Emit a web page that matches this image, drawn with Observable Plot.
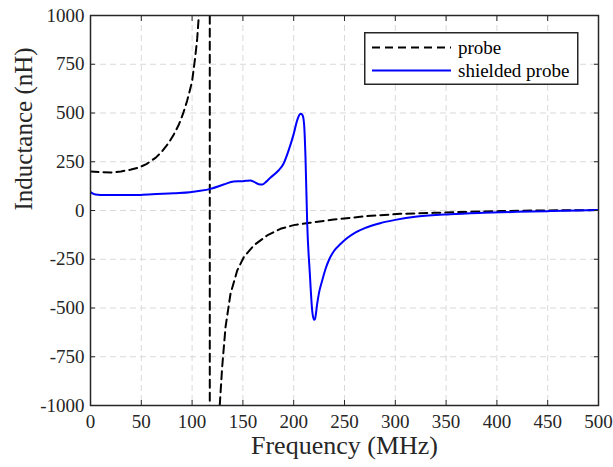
<!DOCTYPE html>
<html><head><meta charset="utf-8">
<script src="https://cdn.jsdelivr.net/npm/d3@7"></script>
<script src="https://cdn.jsdelivr.net/npm/@observablehq/plot@0.6"></script>
<style>
body{margin:0;background:#fff;}
#wrap{position:relative;width:613px;height:467px;font-family:"Liberation Serif","Times New Roman",serif;}
#legend{position:absolute;left:364px;top:32px;}
</style>
</head><body>
<div id="wrap"></div>
<script>
// x ticks (MHz) and y ticks (nH)
const xTicks = [0, 50, 100, 150, 200, 250, 300, 350, 400, 450, 500];
const yTicks = [-1000, -750, -500, -250, 0, 250, 500, 750, 1000];

// "probe" series (dashed black)
const probeFreq = [0, 10, 20, 30, 40, 47, 55, 64, 70, 77, 82, 87, 91, 95, 98, 100, 103, 105, 106.5, 117.3,
  117.5, 127.2, 129.6, 132.9, 137.8, 144.4, 150.9, 160.7, 173.9, 187, 200, 216, 239.5, 272, 305, 337.6, 370.8, 403.5, 436, 470, 500];
const probeL = [200, 197, 195, 200, 210, 219, 238, 270, 300, 347, 390, 441, 495, 561, 620, 663, 783, 880, 990, 30000,
  -30000, -1000, -803, -598, -427, -308, -239, -179, -128, -94, -75, -63, -46, -29, -17, -12, -7, -3, 0, 1, 2];

// "shielded probe" series (solid blue)
const shieldFreq = [0, 3, 5, 10, 23, 40, 49, 65, 82, 98, 108, 118, 131, 141, 149, 153, 157.5, 161, 165.6, 169, 173, 177,
  185, 190, 195, 200, 203.4, 205.5, 206.7, 208, 209.3, 210.5, 211.6, 213.3, 215.9, 218.2, 220, 221, 223.1, 225, 228, 231,
  235, 240, 246, 253, 261, 270, 285, 300, 321.5, 354, 387, 420, 453, 480, 500];
const shieldL = [94, 85, 82, 80, 79, 79.5, 80, 84, 89, 94, 101, 111, 133, 149, 150, 152, 154, 147, 135, 133, 148, 168,
  205, 240, 308, 393, 462, 490, 496, 493, 479, 420, 274, -68, -325, -513, -560, -555, -479, -420, -360, -305,
  -250, -205, -172, -140, -112, -90, -65, -48, -31, -19, -12, -7, -3, 0, 2];

const seriesNames = ["probe", "shielded probe"];

const probe = probeFreq.map((f, i) => ({f, L: probeL[i]}));
const shielded = shieldFreq.map((f, i) => ({f, L: shieldL[i]}));

const axisColor = "#262626";
const serif = "'Liberation Serif','Times New Roman',serif";
const gridStyle = {stroke: "#d9d9d9", strokeOpacity: 1, strokeWidth: 1, strokeDasharray: "6,4"};
const fmt = d => String(d);

const chart = Plot.plot({
  width: 613, height: 467,
  marginLeft: 90, marginRight: 15, marginTop: 15, marginBottom: 62,
  x: {domain: [0, 500]},
  y: {domain: [-1000, 1000]},
  style: {fontFamily: serif, fontSize: "19px", color: axisColor, background: "white"},
  marks: [
    Plot.gridX(xTicks, gridStyle),
    Plot.gridY(yTicks, gridStyle),
    Plot.line(probe, {x: "f", y: "L", stroke: "black", strokeWidth: 2, strokeDasharray: "8,5", clip: true}),
    Plot.line(shielded, {x: "f", y: "L", stroke: "#0000ff", strokeWidth: 2, curve: "monotone-x", clip: true}),
    Plot.axisX(xTicks, {anchor: "bottom", tickSize: 0, tickPadding: 9, label: null, tickFormat: fmt, fill: axisColor, fontFamily: serif, fontSize: 19}),
    Plot.axisY(yTicks, {anchor: "left", tickSize: 0, tickPadding: 6, label: null, tickFormat: fmt, fill: axisColor, fontFamily: serif, fontSize: 19}),
    Plot.axisX(xTicks, {anchor: "bottom", tickSize: -5, fill: "none", label: null, stroke: axisColor}),
    Plot.axisX(xTicks, {anchor: "top", tickSize: -5, fill: "none", label: null, stroke: axisColor}),
    Plot.axisY(yTicks, {anchor: "left", tickSize: -5, fill: "none", label: null, stroke: axisColor}),
    Plot.axisY(yTicks, {anchor: "right", tickSize: -5, fill: "none", label: null, stroke: axisColor}),
    Plot.frame({stroke: axisColor, strokeWidth: 1.5}),
    Plot.text(["Frequency (MHz)"], {frameAnchor: "bottom", dy: 48, fontSize: 26, fontFamily: serif, fill: axisColor}),
    Plot.text(["Inductance (nH)"], {frameAnchor: "left", rotate: -90, dx: -67, fontSize: 25, fontFamily: serif, fill: axisColor})
  ]
});

const wrap = document.getElementById("wrap");
wrap.appendChild(chart);

// Legend overlay
const lg = d3.select(wrap).append("svg").attr("id", "legend")
  .attr("width", 215).attr("height", 54);
lg.append("rect").attr("x", 0.75).attr("y", 0.75).attr("width", 213).attr("height", 51.5)
  .attr("fill", "white").attr("stroke", axisColor).attr("stroke-width", 1.5);
const styles = [{stroke: "black", dash: "8,5"}, {stroke: "#0000ff", dash: null}];
seriesNames.forEach((name, i) => {
  const y = 15.5 + i * 23;
  lg.append("line").attr("x1", 8).attr("x2", 87).attr("y1", y).attr("y2", y)
    .attr("stroke", styles[i].stroke).attr("stroke-width", 2)
    .attr("stroke-dasharray", styles[i].dash);
  lg.append("text").attr("x", 94).attr("y", y).attr("dy", "0.32em")
    .attr("font-family", serif).attr("font-size", 19)
    .attr("fill", "black").text(name);
});
</script>
</body></html>
